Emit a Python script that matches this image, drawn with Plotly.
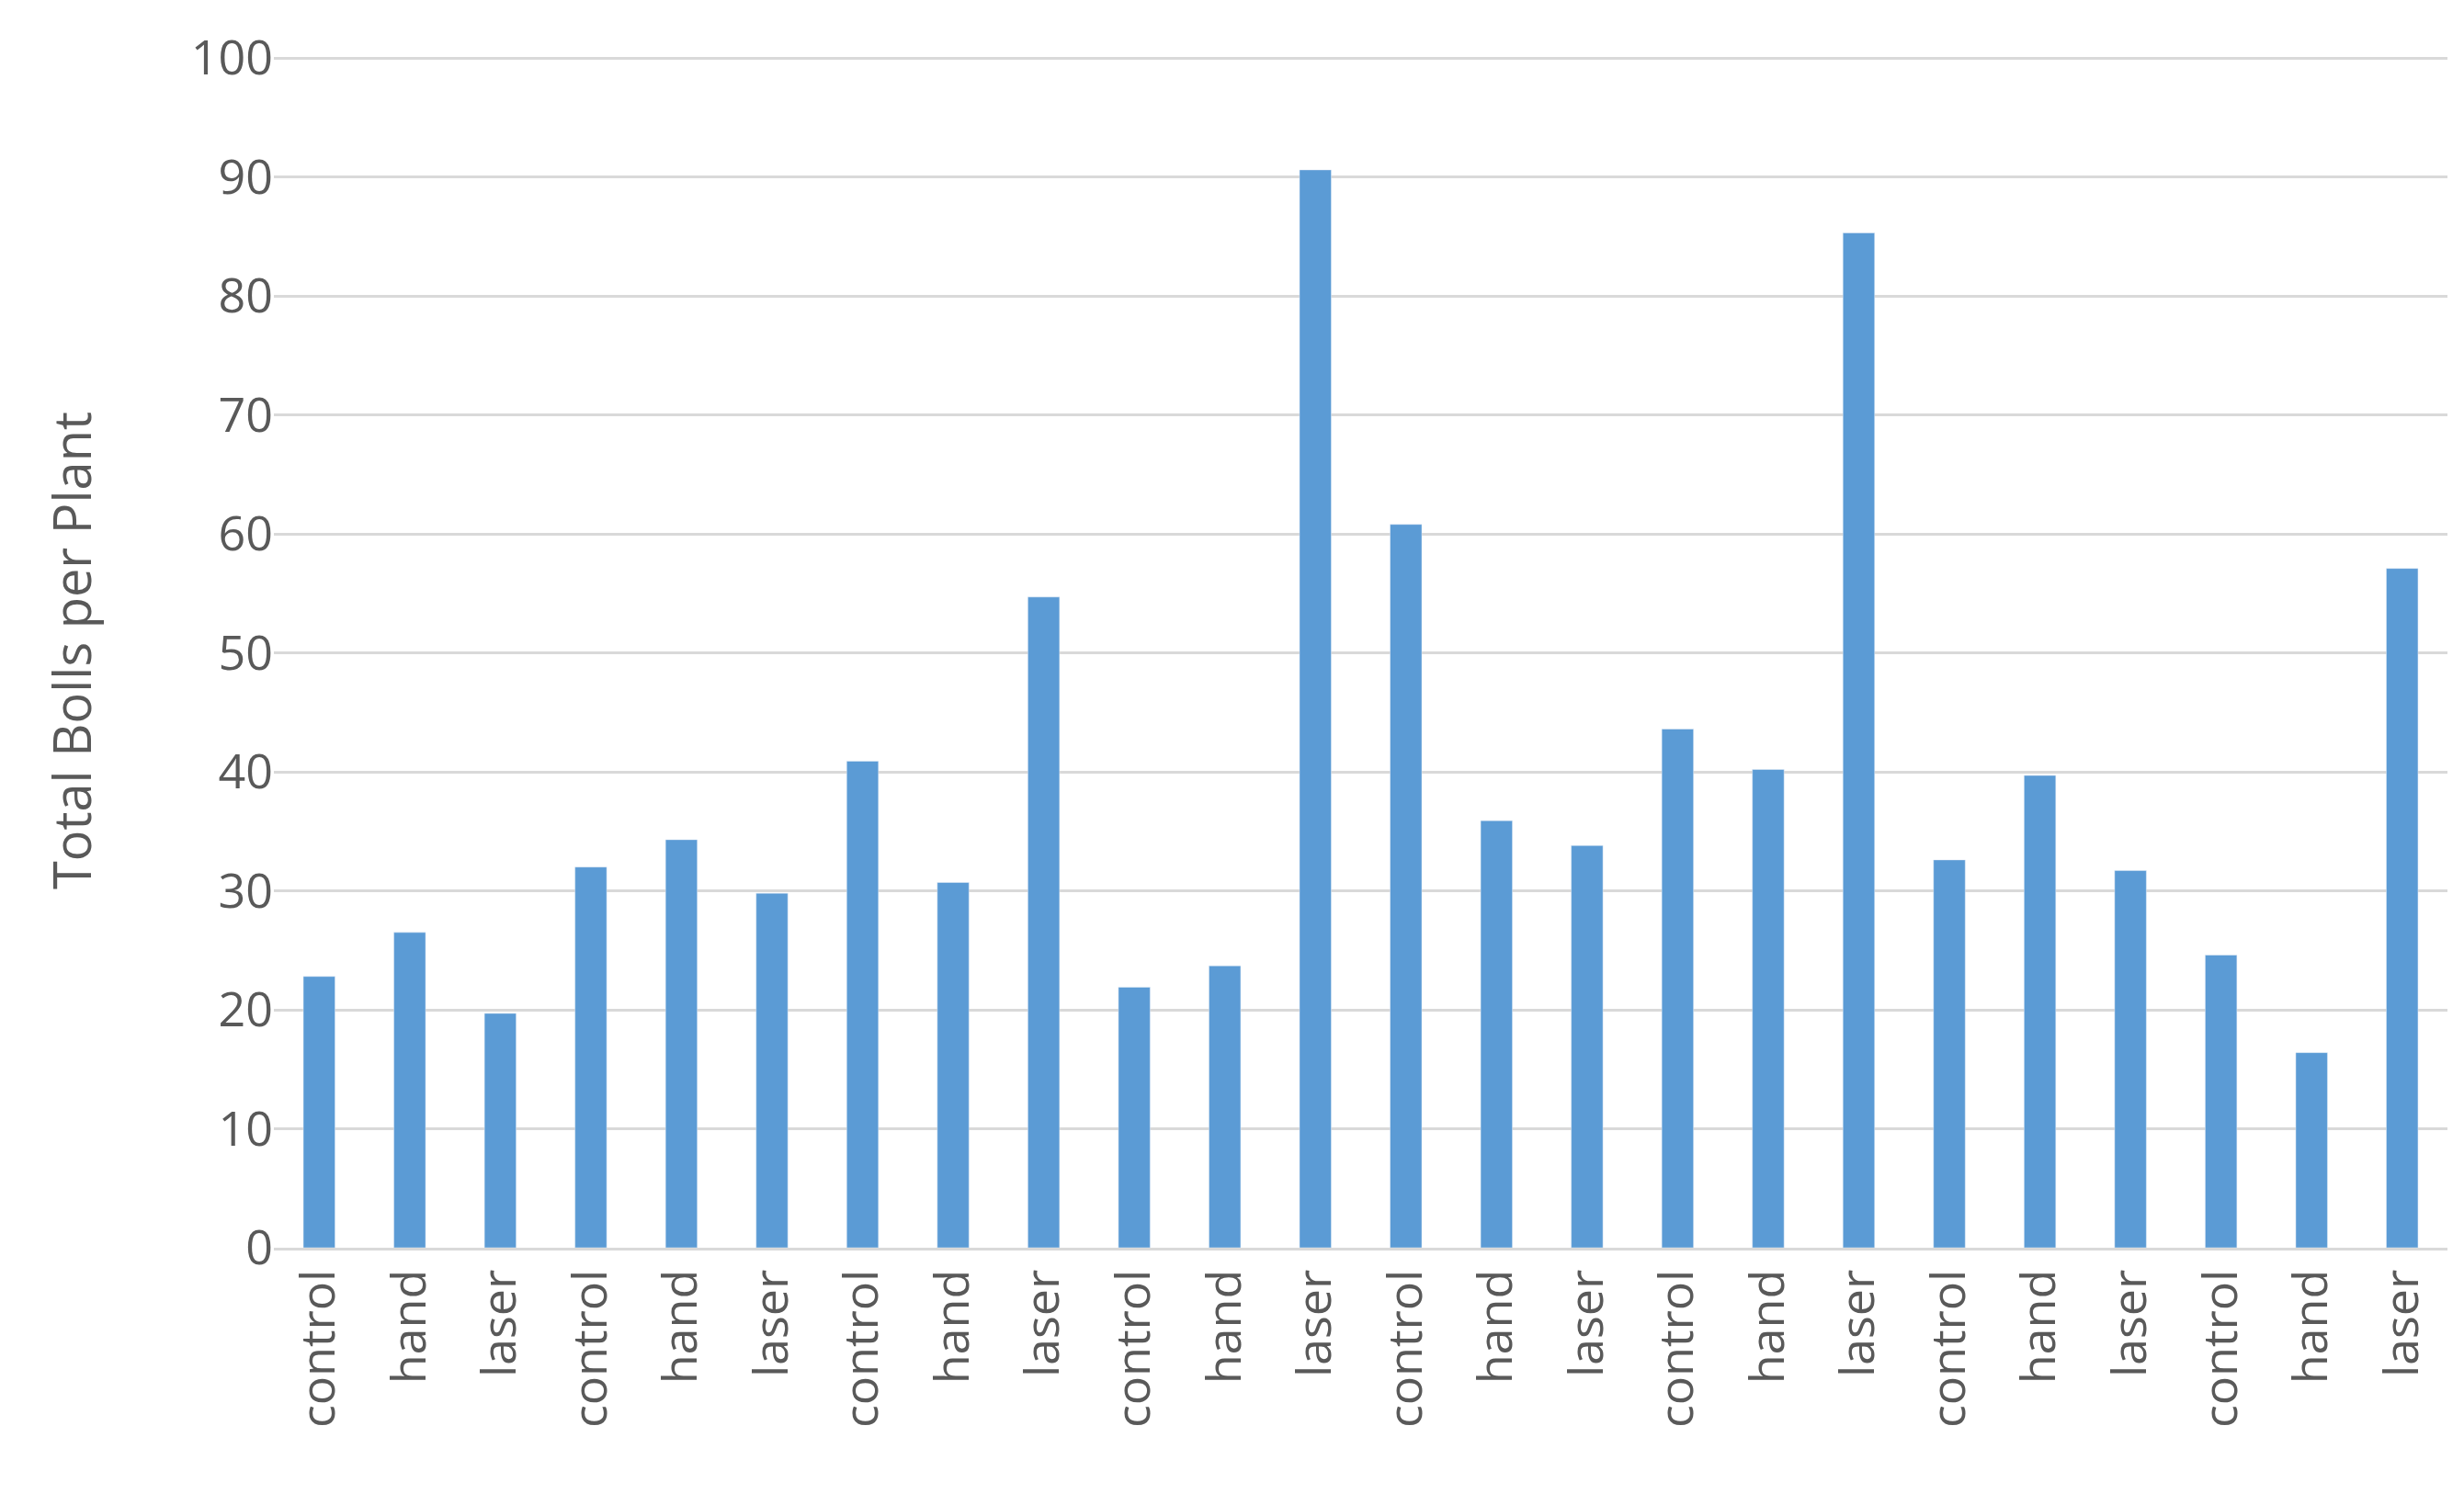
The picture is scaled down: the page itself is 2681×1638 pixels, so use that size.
import plotly.graph_objects as go

categories = ["control", "hand", "laser"] * 8
values = [22.8, 26.5, 19.7, 32.0, 34.3, 29.8, 40.9, 30.7, 54.7, 21.9, 23.7, 90.6,
          60.8, 35.9, 33.8, 43.6, 40.2, 85.3, 32.6, 39.7, 31.7, 24.6, 16.4, 57.1]
y_ticks = list(range(0, 101, 10))

x = list(range(len(values)))
fig = go.Figure(go.Bar(x=x, y=values, marker_color="#5B9BD5", width=0.35))
fig.update_layout(
    width=2681, height=1638, plot_bgcolor="white", paper_bgcolor="white",
    margin=dict(l=290, r=26, t=50, b=288), showlegend=False,
    font=dict(family="Open Sans", color="#595959", size=50),
)
fig.update_xaxes(tickmode="array", tickvals=x, ticktext=categories, tickangle=-90,
                 range=[-0.5, len(values) - 0.5], showline=True, linecolor="#D9D9D9",
                 linewidth=3, tickfont=dict(size=52), ticks="")
fig.update_yaxes(range=[0, 100.4], tickvals=y_ticks, showgrid=True, gridcolor="#D9D9D9",
                 gridwidth=3, zeroline=False, tickfont=dict(size=52),
                 title=dict(text="Total Bolls per Plant", font=dict(size=56), standoff=90),
                 ticksuffix="      ")
fig.write_html("out.html")
